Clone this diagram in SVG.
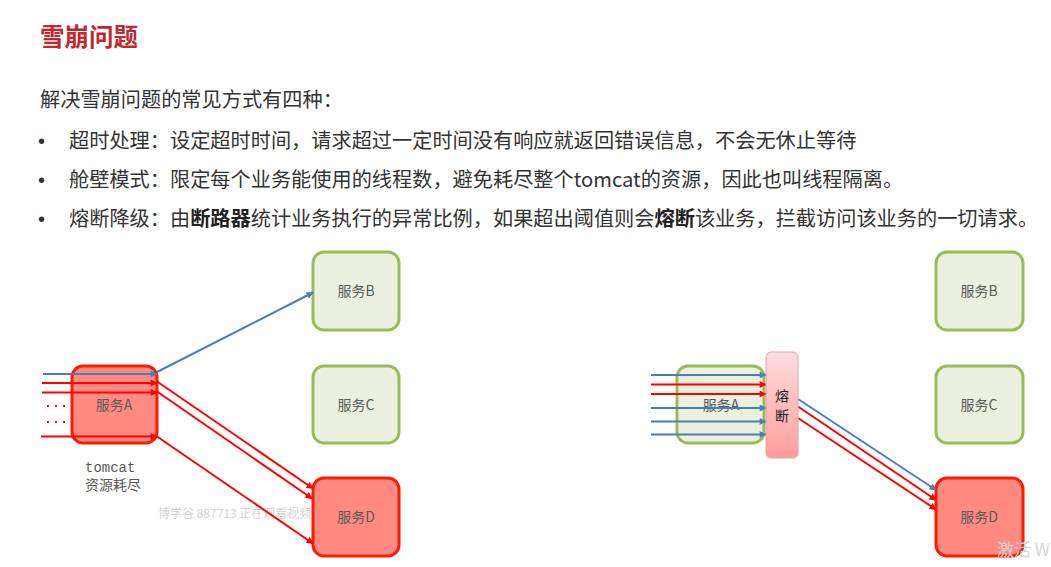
<svg xmlns="http://www.w3.org/2000/svg" width="1051" height="567" viewBox="0 0 1051 567">
<style>
.t{font-family:"Noto Sans CJK SC","Noto Sans",sans-serif;fill:#333;font-size:20.2px}
.bu{font-family:"Liberation Sans",sans-serif;fill:#333;font-size:20px}
.lbl{font-family:"Noto Sans CJK SC","Noto Sans",sans-serif;fill:#595959;font-size:14px;text-anchor:middle}
.g{fill:#ebf1de;stroke:#9bbb59;stroke-width:3}
.r{fill:#ff8a82;stroke:#ff1a00;stroke-width:3}
.bl{stroke:#4a7ebb;stroke-width:2;fill:none}
.rd{stroke:#ff0000;stroke-width:2;fill:none}
.wm{font-family:"Noto Sans CJK SC","Noto Sans",sans-serif;fill:#d4d4d4}
</style>
<defs>
<marker id="ab" viewBox="0 0 10 10" refX="9" refY="5" markerWidth="8" markerHeight="7" markerUnits="userSpaceOnUse" orient="auto"><path d="M0,0L10,5L0,10z" fill="#4a7ebb"/></marker>
<marker id="ar" viewBox="0 0 10 10" refX="9" refY="5" markerWidth="8" markerHeight="7" markerUnits="userSpaceOnUse" orient="auto"><path d="M0,0L10,5L0,10z" fill="#ff0000"/></marker>
<linearGradient id="pk" x1="0" y1="0" x2="0" y2="1"><stop offset="0" stop-color="#ffdede"/><stop offset="1" stop-color="#ff9c9c"/></linearGradient>
</defs>
<rect width="1051" height="567" fill="#fff"/>
<g id="text">
<text x="40" y="46" font-family="'Noto Sans CJK SC',sans-serif" font-size="24.5" font-weight="bold" fill="#c3272b">雪崩问题</text>
<text class="t" x="40" y="107">解决雪崩问题的常见方式有四种：</text>
<text class="bu" x="38" y="148">•</text>
<text class="t" x="69" y="148">超时处理：设定超时时间，请求超过一定时间没有响应就返回错误信息，不会无休止等待</text>
<text class="bu" x="38" y="187">•</text>
<text class="t" x="69" y="187">舱壁模式：限定每个业务能使用的线程数，避免耗尽整个tomcat的资源，因此也叫线程隔离。</text>
<text class="bu" x="38" y="226">•</text>
<text class="t" x="69" y="226">熔断降级：由<tspan font-weight="bold" fill="#222">断路器</tspan>统计业务执行的异常比例，如果超出阈值则会<tspan font-weight="bold" fill="#222">熔断</tspan>该业务，拦截访问该业务的一切请求。</text>
</g>
<text class="wm" x="158" y="518" font-size="12">博学谷 887713 正在观看视频</text>
<g id="left-serviceA"><rect class="r" x="72" y="366" width="85" height="77" rx="11"/><text class="lbl" x="114" y="410">服务A</text></g>
<g id="left-serviceB"><rect class="g" x="313" y="252" width="86" height="78" rx="11"/><text class="lbl" x="356" y="296">服务B</text></g>
<g id="left-serviceC"><rect class="g" x="313" y="366" width="86" height="77" rx="11"/><text class="lbl" x="356" y="410">服务C</text></g>
<g id="left-serviceD"><rect class="r" x="313" y="478" width="86" height="78" rx="11"/><text class="lbl" x="356" y="522">服务D</text></g>
<g id="left-caption">
<text x="85" y="472" font-family="'Liberation Mono',monospace" font-size="14" fill="#595959">tomcat</text>
<text x="85" y="490" font-family="'Noto Sans CJK SC',sans-serif" font-size="14" fill="#595959">资源耗尽</text>
</g>
<g id="left-connectors">
<line class="bl" x1="43" y1="374" x2="157" y2="374" marker-end="url(#ab)"/>
<line class="rd" x1="42" y1="383" x2="157" y2="383" marker-end="url(#ar)"/>
<line class="rd" x1="42" y1="392.5" x2="157" y2="392.5" marker-end="url(#ar)"/>
<line class="rd" x1="41" y1="436.5" x2="157" y2="436.5" marker-end="url(#ar)"/>
<line x1="47" y1="406" x2="66" y2="406" stroke="#ff0000" stroke-width="2" stroke-dasharray="2,6"/>
<line x1="47" y1="422" x2="66" y2="422" stroke="#ff0000" stroke-width="2" stroke-dasharray="2,6"/>
<line class="bl" x1="157" y1="372" x2="313" y2="292.5" marker-end="url(#ab)"/>
<line class="rd" x1="157" y1="381.5" x2="313" y2="488.5" marker-end="url(#ar)"/>
<line class="rd" x1="157" y1="391.5" x2="312" y2="498.5" marker-end="url(#ar)"/>
<line class="rd" x1="157" y1="436.5" x2="313" y2="543.5" marker-end="url(#ar)"/>
</g>
<g id="right-serviceA"><rect class="g" x="677" y="366" width="87" height="77" rx="11"/><text class="lbl" x="721" y="410">服务A</text></g>
<g id="right-serviceB"><rect class="g" x="936" y="252" width="87" height="78" rx="11"/><text class="lbl" x="979" y="296">服务B</text></g>
<g id="right-serviceC"><rect class="g" x="936" y="366" width="87" height="77" rx="11"/><text class="lbl" x="979" y="410">服务C</text></g>
<g id="right-serviceD"><rect class="r" x="936" y="478" width="87" height="78" rx="11"/><text class="lbl" x="979" y="522">服务D</text></g>
<g id="right-connectors">
<line class="bl" x1="651" y1="375" x2="766" y2="375" marker-end="url(#ab)"/>
<line class="rd" x1="651" y1="384.5" x2="766" y2="384.5" marker-end="url(#ar)"/>
<line class="rd" x1="651" y1="394" x2="766" y2="394" marker-end="url(#ar)"/>
<line class="bl" x1="651" y1="408" x2="766" y2="408" marker-end="url(#ab)"/>
<line class="bl" x1="651" y1="421.5" x2="766" y2="421.5" marker-end="url(#ab)"/>
<line class="bl" x1="651" y1="434.5" x2="766" y2="434.5" marker-end="url(#ab)"/>
<line class="bl" x1="798" y1="399" x2="936" y2="490" marker-end="url(#ab)"/>
<line class="rd" x1="798" y1="406.5" x2="936" y2="500" marker-end="url(#ar)"/>
<line class="rd" x1="798" y1="418" x2="936" y2="509.5" marker-end="url(#ar)"/>
</g>
<g id="breaker">
<rect x="766" y="352" width="32" height="106" rx="5" fill="url(#pk)" stroke="#e8a0a0" stroke-width="1"/>
<text x="782" y="401" font-family="'Noto Sans CJK SC',sans-serif" font-size="14" fill="#222" text-anchor="middle">熔</text>
<text x="782" y="421" font-family="'Noto Sans CJK SC',sans-serif" font-size="14" fill="#222" text-anchor="middle">断</text>
</g>
<text class="wm" x="997" y="556" font-size="17" fill="#c8c8c8">激活 W</text>
</svg>
